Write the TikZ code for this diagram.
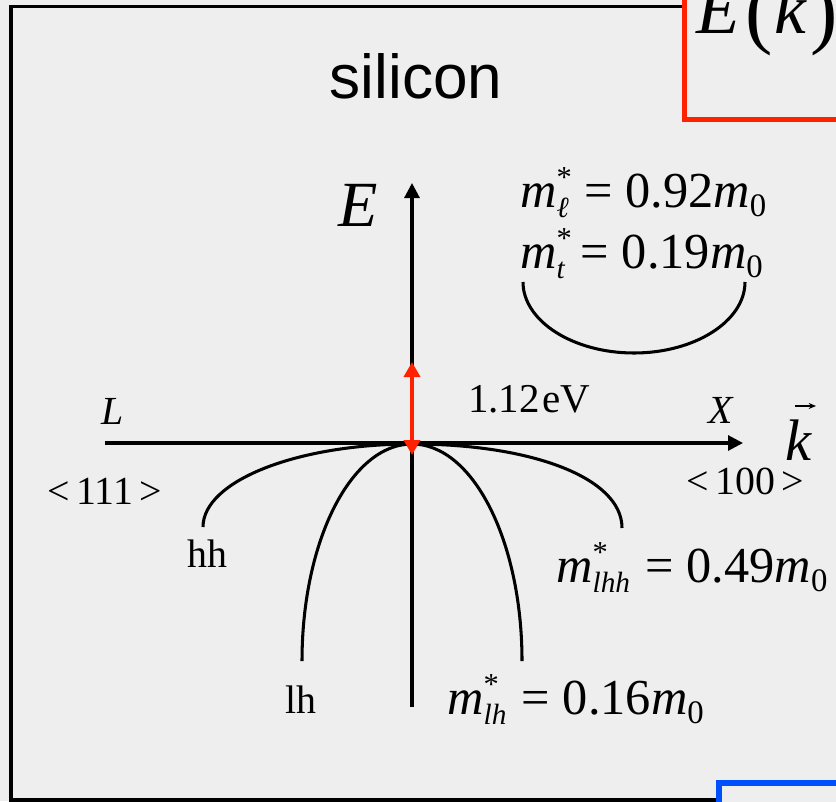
\documentclass[tikz,border=0pt]{standalone}
\usepackage{fontspec}
\setmainfont{Liberation Serif}
\newfontfamily\helv{Liberation Sans}
\usepackage{xcolor}
\definecolor{Paper}{HTML}{EEEEEE}
\definecolor{Vermilion}{HTML}{FF2200}
\definecolor{Azure}{HTML}{0050FF}
\colorlet{paper}{Paper}
\colorlet{gapred}{Vermilion}
\colorlet{boxblue}{Azure}
\usepackage{tikz}
\usetikzlibrary{arrows.meta}
\newcommand\fs[1]{\fontsize{#1}{#1}\selectfont}
\newcommand\subs[1]{\raisebox{-9pt}{\fs{25}#1}}
\newcommand\meff[2]{\textit{m}\rlap{\raisebox{17pt}{\fs{26}*}}\subs{\textit{#1}}\kern2.5pt\ = #2\textit{m}\raisebox{-8pt}{\fs{28}0}}

\begin{document}
\begin{tikzpicture}[x=0.3mm,y=-0.3mm,every node/.style={inner sep=0pt,anchor=base west},
  axis/.style={line width=2.6pt,-{Triangle[length=4.5mm,width=4.5mm]}},
  band/.style={line width=2.6pt}]
\useasboundingbox (0,0) rectangle (836,801);
\clip (0,0) rectangle (836,801);
\fill[paper] (0,0) rectangle (836,801);
\draw[line width=3.4pt] (11,6.5) rectangle (900,800);
\filldraw[fill=paper,draw=gapred,line width=4.3pt] (684.5,-50) rectangle (900,119.5);
\filldraw[fill=paper,draw=boxblue,line width=4.6pt] (719,783) rectangle (900,900);
% axes
\coordinate (G) at (412,444);
\coordinate (Etop) at (412,183);\coordinate (Ebot) at (412,707);
\coordinate (kl) at (105,443);\coordinate (kr) at (743,443);
\draw[axis] (Ebot)--(Etop);\draw[axis] (kl)--(kr);
% bands
\coordinate (hhL) at (203,527);\coordinate (hhR) at (622,528);
\coordinate (lhL) at (302,661);\coordinate (lhR) at (522,661);
\draw[band] (hhL) .. controls (203,481) and (297,444) .. (G) .. controls (532,444) and (622,478) .. (hhR);
\draw[band] (lhL) .. controls (302,541) and (351,444) .. (G) .. controls (473,444) and (522,541) .. (lhR);
\coordinate (cbL) at (523,282);\coordinate (cbB) at (634,353);\coordinate (cbR) at (745,282);
\draw[band] (cbL) .. controls (523,321) and (573,353) .. (cbB) .. controls (695,353) and (745,321) .. (cbR);
% gap
\coordinate (Vb) at (412,455);\coordinate (Ct) at (412,362);
\draw[line width=3.4pt,gapred,{Triangle[length=4.5mm,width=4.8mm]}-{Triangle[length=4.5mm,width=4.8mm]}] (Vb)--(Ct);
% labels
\node[anchor=base] (title) at (416,98) {\helv\fs{53}silicon};
\node (Ek) at (696,34) {\fs{61}\textit{E}\kern5pt\raisebox{-4pt}{\fs{70}(}\kern1pt\textit{k}\kern3pt\raisebox{-4pt}{\fs{70})}};
\node (Elab) at (338,226) {\fs{55}\textit{E}};
\node (kvec) at (785,460) {\fs{50}\textit{k}};
\coordinate (vecA) at (795,406);\coordinate (vecB) at (816,406);
\draw[line width=1.1pt,-{Stealth[length=2.2mm,width=1.8mm]}] (vecA)--(vecB);
\node (Llab) at (101,424) {\fs{34}\textit{L}};
\node (Xlab) at (708,423) {\fs{34}\textit{X}};
\node (dirL) at (47,504) {\fs{34}<\,111\,>};
\node (dirX) at (686,494) {\fs{34}<\,100\,>};
\node (gap) at (468,412) {\fs{35}1.12\kern2pt eV};
\node (hh) at (187,567) {\fs{34}hh};
\node (lh) at (285,713) {\fs{34}lh};
\node (ml) at (520,207) {\fs{43}\meff{ℓ}{0.92}};
\node (mt) at (520,268) {\fs{43}\meff{t}{0.19}};
\node (mlhh) at (556,582) {\fs{43}\meff{lhh}{0.49}};
\node (mlh) at (447,714) {\fs{43}\meff{lh}{0.16}};
\end{tikzpicture}
\end{document}
